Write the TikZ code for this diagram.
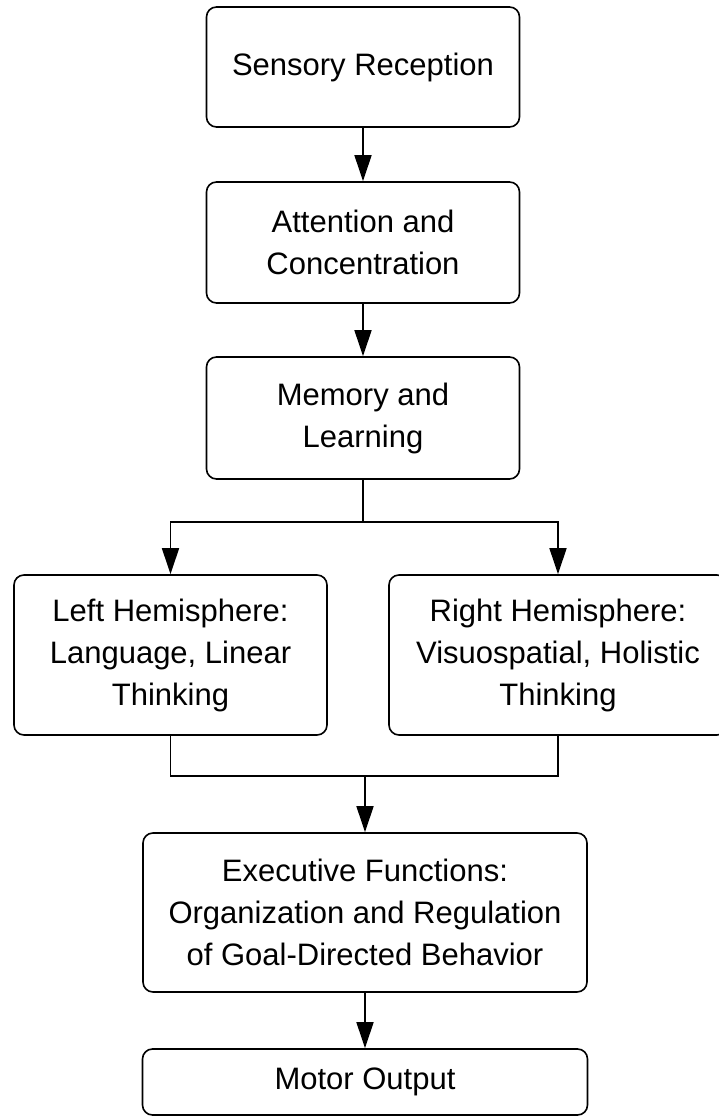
\documentclass[tikz,border=0pt]{standalone}
\usepackage{fontspec}
\setmainfont{Liberation Sans}
\usetikzlibrary{positioning,arrows.meta}

\begin{document}
\begin{tikzpicture}[x=1pt, y=1pt,
  box/.style={draw, line width=1.6pt, rounded corners=10pt, align=center, inner sep=0pt, font=\fontsize{31}{42}\selectfont},
  flow/.style={line width=1.5pt, -{Triangle[length=26pt, width=17pt]}},
  link/.style={line width=1.5pt}]
  \useasboundingbox (0,0) rectangle (719,1117);
  \node[box, minimum width=313pt, minimum height=120pt] (sens) at (363,1050) {Sensory Reception};
  \node[box, minimum width=313pt, minimum height=121pt] (att) at (363,874.5) {Attention and\\Concentration};
  \node[box, minimum width=313pt, minimum height=122pt] (mem) at (363,699) {Memory and\\Learning};
  \node[box, minimum width=313pt, minimum height=160pt] (left) at (170.5,462) {Left Hemisphere:\\Language, Linear\\Thinking};
  \node[box, minimum width=338pt, minimum height=160pt] (right) at (558,462) {Right Hemisphere:\\Visuospatial, Holistic\\Thinking};
  \node[box, minimum width=444pt, minimum height=159pt] (exec) at (365,204.5) {Executive Functions:\\Organization and Regulation\\of Goal-Directed Behavior};
  \node[box, minimum width=445pt, minimum height=66pt] (motor) at (365,35) {Motor Output};

  \coordinate (split) at ([yshift=-42pt]mem.south);
  \coordinate (join) at ([yshift=56pt]exec.north);

  \draw[flow] (sens) -- (att);
  \draw[flow] (att) -- (mem);
  \draw[link] (mem.south) -- (split);
  \draw[flow] (split) -| (left.north);
  \draw[flow] (split) -| (right.north);
  \draw[link] (left.south) |- (join) -| (right.south);
  \draw[flow] (join) -- (exec.north);
  \draw[flow] (exec) -- (motor);
\end{tikzpicture}
\end{document}
